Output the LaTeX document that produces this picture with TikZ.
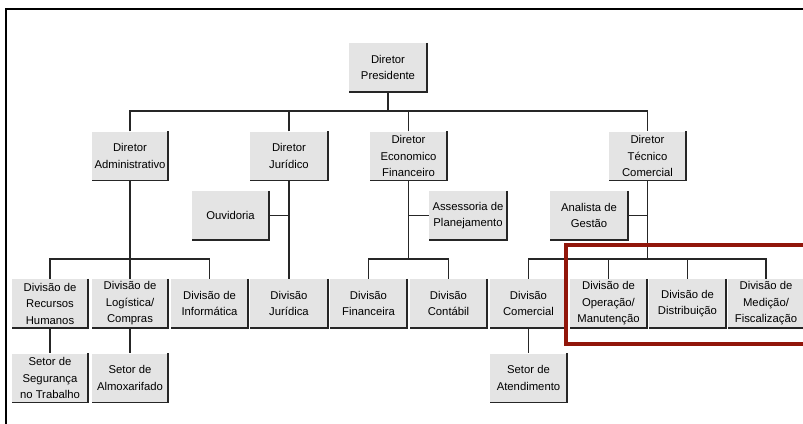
\documentclass[tikz,border=0pt]{standalone}
\usepackage{fontspec}
\setmainfont{Liberation Sans}
\definecolor{boxgray}{RGB}{228,228,228}
\definecolor{markred}{RGB}{145,22,10}
\tikzset{
  orgbox/.style={fill=boxgray, minimum width=77pt, minimum height=49pt, inner sep=0pt, align=center,
    font=\fontsize{11.3}{16.5}\selectfont},
  edgeline/.style={draw=black!85, line width=1.5pt},
  conn/.style={draw=black!85, line width=1.4pt},
}
\newcommand\obox[4][77]{%
  \node[orgbox, minimum width=#1pt] (#2) at (#3) {#4};
  \draw[edgeline] (#2.north east) -- (#2.south east) -- (#2.south west);}
\begin{document}
\begin{tikzpicture}[x=1pt,y=-1pt]
\useasboundingbox (0,0) rectangle (803,423);
\clip (0,0) rectangle (803,423);
\fill[white] (0,0) rectangle (803,423);
% frame
\draw[line width=2pt] (6,430) -- (6,9) -- (810,9);
% level 1
\obox[78]{pres}{388,67.5}{Diretor\\Presidente}
% level 2
\obox[76]{adm}{130,156}{Diretor\\Administrativo}
\obox[78]{jur}{289,156}{Diretor\\Jurídico}
\obox{eco}{408.5,156}{Diretor\\Economico\\Financeiro}
\obox{tec}{647.5,156}{Diretor\\Técnico\\Comercial}
% staff
\obox{ouv}{230.5,215.5}{Ouvidoria}
\obox[78]{ase}{468,215.5}{Assessoria de\\Planejamento}
\obox[78]{ana}{589,215.5}{Analista de\\Gestão}
% level 4
\obox[76]{rh}{50,303.5}{Divisão de\\Recursos\\Humanos}
\obox[76]{log}{130,303.5}{Divisão de\\Logística/\\Compras}
\obox{inf}{209.5,303.5}{Divisão de\\Informática}
\obox[78]{djur}{289,303.5}{Divisão\\Jurídica}
\obox{fin}{368.5,303.5}{Divisão\\Financeira}
\obox{cont}{448.5,303.5}{Divisão\\Contábil}
\obox{com}{528.5,303.5}{Divisão\\Comercial}
\obox{op}{608.5,303.5}{Divisão de\\Operação/\\Manutenção}
\obox{dist}{687.5,303.5}{Divisão de\\Distribuição}
\obox[76]{med}{766,303.5}{Divisão de\\Medição/\\Fiscalização}
% level 5
\obox[76]{seg}{50,378}{Setor de\\Segurança\\no Trabalho}
\obox[76]{alm}{130,378}{Setor de\\Almoxarifado}
\obox{ate}{528.5,378}{Setor de\\Atendimento}
% connectors
\coordinate (b1) at (388,111);
\draw[conn] (pres.south) -- (b1);
\draw[conn] (adm.north) |- (b1) -| (tec.north);
\draw[conn] (jur.north) -- (jur.north |- b1);
\draw[conn] (eco.north) -- (eco.north |- b1);
\draw[conn] (adm.south) -- (log.north);
\draw[conn] (rh.north) -- ++(0,-20) -| (inf.north);
\draw[conn] (jur.south) -- (djur.north);
\draw[conn] (ouv.east) -- (ouv.east -| jur.south);
\draw[conn] (eco.south) -- (eco.south |- 0,259);
\draw[conn] (fin.north) -- ++(0,-20) -| (cont.north);
\draw[conn] (ase.west) -- (ase.west -| eco.south);
\draw[conn] (tec.south) -- (tec.south |- 0,259);
\draw[conn] (com.north) -- ++(0,-20) -| (med.north);
\draw[conn] (op.north) -- (op.north |- 0,259);
\draw[conn] (dist.north) -- (dist.north |- 0,259);
\draw[conn] (ana.east) -- (ana.east -| tec.south);
\draw[conn] (rh.south) -- (seg.north);
\draw[conn] (log.south) -- (alm.north);
\draw[conn] (com.south) -- (ate.north);
% highlight
\draw[markred, line width=4.5pt] (820,245) -- (566,245) -- (566,344) -- (820,344);
\end{tikzpicture}
\end{document}
